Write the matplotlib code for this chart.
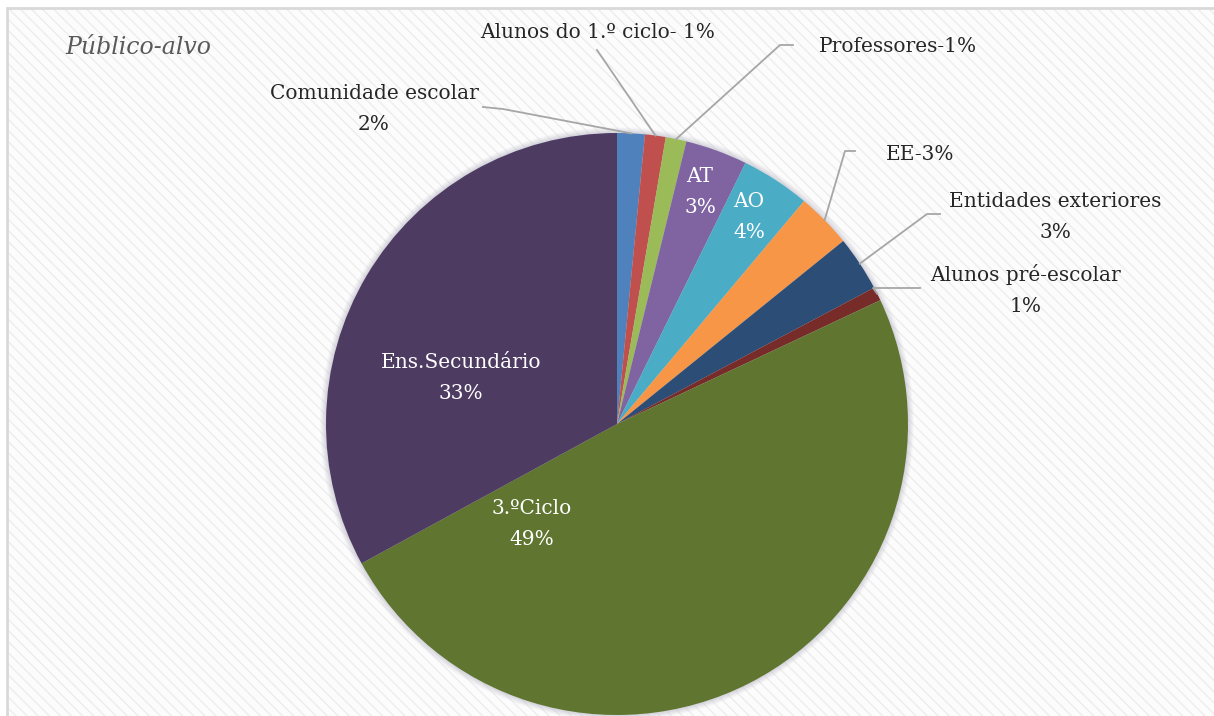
import numpy as np
import matplotlib.pyplot as plt
from matplotlib.patches import Rectangle

# audience of the activities (number of people per group)
grupos = ["Comunidade escolar", "Alunos do 1.º ciclo", "Professores", "AT", "AO",
          "EE", "Entidades exteriores", "Alunos pré-escolar", "3.ºCiclo", "Ens.Secundário"]
contagem = [4, 3, 3, 9, 10, 8, 8, 2, 128, 86]
separador = ["\n", "- ", "-", "\n", "\n", "-", "\n", "\n", "\n", "\n"]
cores = ["#4F81BD", "#C0504D", "#9BBB59", "#8064A2", "#4BACC6",
         "#F79646", "#2C4D75", "#772C2A", "#5F7530", "#4D3B62"]

W, H = 1214, 716
cx, cy, raio = 617, H - 424, 291

# label centres (pixels from top-left) and leader line elbows
pos_txt = [(374, 109), (598, 33), (898, 47), (700, 192), (749, 217),
           (920, 155), (1055, 217), (1026, 290), (532, 524), (461, 378)]
cotovelos = {0: [(503, 109), (483, 107)],
             1: [(597, 50)],
             2: [(780, 45), (793, 45)],
             5: [(845, 151), (855, 151)],
             6: [(927, 214), (940, 214)],
             7: [(873, 288), (920, 288)]}
dentro = [3, 4, 8, 9]

fig = plt.figure(figsize=(W / 100, H / 100), dpi=100)
fig.patch.set_facecolor("white")
ax = fig.add_axes([0, 0, 1, 1])

# striped chart background with a light frame
ax.add_patch(Rectangle((7, -10), W, H - 8 + 10, facecolor="#fcfcfc",
                       edgecolor="#ededed", linewidth=0, hatch="\\\\\\", zorder=0))
ax.add_patch(Rectangle((7, -10), W, H - 8 + 10, facecolor="none",
                       edgecolor="#d9d9d9", linewidth=2, zorder=1))

# soft halo around the pie
for k, a in zip(range(6, 0, -1), [0.08, 0.12, 0.16, 0.2, 0.25, 0.3]):
    ax.add_patch(plt.Circle((cx, cy), raio + k, color="#c8c8d4", alpha=a, lw=0, zorder=2))

total = sum(contagem)
fatias, _ = ax.pie(contagem, colors=cores, startangle=90, counterclock=False,
                   center=(cx, cy), radius=raio, frame=True,
                   wedgeprops=dict(linewidth=0, zorder=3))
ax.set_xlim(0, W)
ax.set_ylim(0, H)
ax.set_aspect("auto")
ax.axis("off")

for i, w in enumerate(fatias):
    pct = round(100 * contagem[i] / total)
    texto = grupos[i] + separador[i] + "%d%%" % pct
    x, y = pos_txt[i]
    cor = "white" if i in dentro else "#262626"
    ax.text(x, H - y, texto, ha="center", va="center", fontsize=14.5,
            family="DejaVu Serif", color=cor, linespacing=1.75, zorder=5)
    if i in cotovelos:
        meio = np.deg2rad((w.theta1 + w.theta2) / 2)
        xs = [cx + raio * np.cos(meio)] + [p[0] for p in cotovelos[i]]
        ys = [cy + raio * np.sin(meio)] + [H - p[1] for p in cotovelos[i]]
        ax.plot(xs, ys, color="#a6a6a6", lw=1.3, zorder=4)

ax.text(65, H - 47, "Público-alvo", ha="left", va="center", fontsize=17,
        family="DejaVu Serif", style="italic", color="#595959", zorder=5)

plt.savefig("out.png", dpi=100, facecolor=fig.get_facecolor())
